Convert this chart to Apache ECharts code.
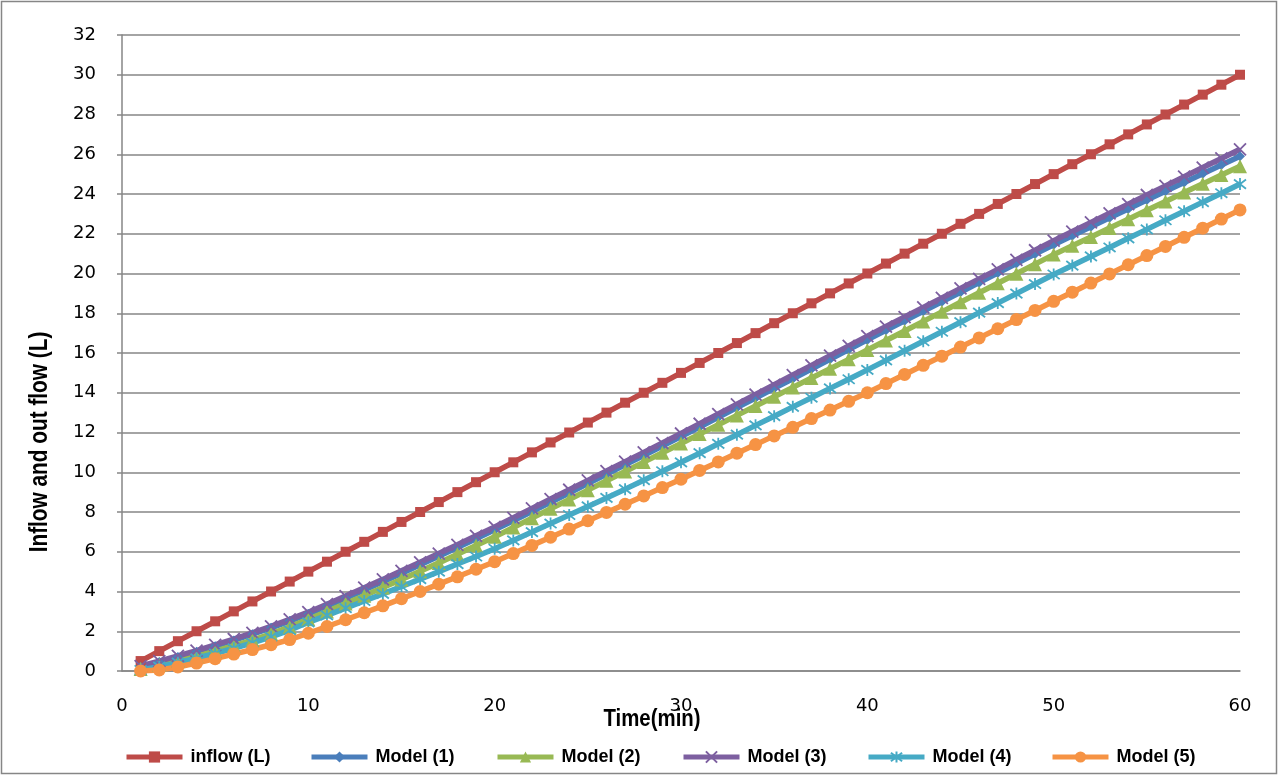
<!DOCTYPE html>
<html>
<head>
<meta charset="utf-8">
<script src="https://cdn.jsdelivr.net/npm/echarts@6/dist/echarts.min.js"></script>
<style>
  html, body { margin: 0; padding: 0; background: #ffffff; }
  #chart { width: 1279px; height: 776px; }
</style>
</head>
<body>
<div id="chart"></div>
<script>
// Time steps (minutes)
const times = [1,2,3,4,5,6,7,8,9,10,11,12,13,14,15,16,17,18,19,20,21,22,23,24,25,26,27,28,29,30,
  31,32,33,34,35,36,37,38,39,40,41,42,43,44,45,46,47,48,49,50,51,52,53,54,55,56,57,58,59,60];

// Cumulative inflow (L)
const inflow = [0.5,1.0,1.5,2.0,2.5,3.0,3.5,4.0,4.5,5.0,5.5,6.0,6.5,7.0,7.5,8.0,8.5,9.0,9.5,10.0,
  10.5,11.0,11.5,12.0,12.5,13.0,13.5,14.0,14.5,15.0,15.5,16.0,16.5,17.0,17.5,18.0,18.5,19.0,19.5,20.0,
  20.5,21.0,21.5,22.0,22.5,23.0,23.5,24.0,24.5,25.0,25.5,26.0,26.5,27.0,27.5,28.0,28.5,29.0,29.5,30.0];

// Cumulative outflow (L) from each model
const model1 = [0.20,0.45,0.71,0.97,1.25,1.54,1.85,2.17,2.51,2.87,3.26,3.66,4.07,4.49,4.91,5.34,5.77,6.21,6.65,7.10,
  7.56,8.02,8.49,8.96,9.43,9.90,10.37,10.84,11.32,11.80,12.28,12.76,13.25,13.73,14.22,14.70,15.19,15.68,16.17,16.66,
  17.14,17.62,18.10,18.58,19.06,19.54,20.02,20.50,20.98,21.45,21.90,22.35,22.80,23.25,23.70,24.14,24.58,25.02,25.46,25.90];

const model2 = [0.10,0.30,0.52,0.75,1.00,1.27,1.56,1.87,2.22,2.60,2.99,3.39,3.79,4.20,4.61,5.02,5.44,5.87,6.31,6.75,
  7.22,7.69,8.16,8.63,9.10,9.57,10.04,10.51,10.98,11.45,11.92,12.39,12.86,13.33,13.80,14.27,14.74,15.21,15.68,16.15,
  16.63,17.11,17.59,18.07,18.55,19.03,19.51,19.99,20.47,20.95,21.40,21.84,22.29,22.73,23.18,23.62,24.07,24.51,24.96,25.40];

const model3 = [0.25,0.50,0.76,1.03,1.31,1.61,1.92,2.25,2.60,2.96,3.36,3.77,4.19,4.61,5.04,5.47,5.91,6.35,6.80,7.25,
  7.71,8.18,8.65,9.12,9.59,10.06,10.53,11.00,11.47,11.95,12.44,12.93,13.42,13.91,14.40,14.89,15.38,15.87,16.36,16.85,
  17.33,17.81,18.29,18.77,19.25,19.73,20.21,20.69,21.17,21.65,22.11,22.57,23.03,23.49,23.95,24.41,24.87,25.33,25.79,26.25];

const model4 = [0.05,0.22,0.42,0.64,0.88,1.14,1.42,1.72,2.05,2.45,2.80,3.16,3.52,3.88,4.25,4.62,5.00,5.38,5.76,6.15,
  6.57,6.99,7.42,7.85,8.28,8.71,9.15,9.60,10.05,10.50,10.96,11.43,11.89,12.36,12.82,13.29,13.75,14.22,14.68,15.15,
  15.63,16.11,16.59,17.07,17.55,18.03,18.51,18.99,19.47,19.95,20.40,20.86,21.31,21.77,22.22,22.68,23.13,23.59,24.04,24.50];

const model5 = [0.00,0.05,0.20,0.40,0.62,0.85,1.08,1.32,1.58,1.90,2.24,2.58,2.93,3.28,3.64,4.00,4.37,4.74,5.12,5.50,
  5.91,6.32,6.73,7.14,7.56,7.98,8.39,8.81,9.23,9.65,10.09,10.52,10.96,11.39,11.83,12.26,12.70,13.13,13.57,14.00,
  14.46,14.92,15.38,15.84,16.30,16.76,17.22,17.68,18.14,18.60,19.06,19.52,19.98,20.44,20.90,21.36,21.82,22.28,22.74,23.20];

const seriesNames = ['inflow (L)', 'Model (1)', 'Model (2)', 'Model (3)', 'Model (4)', 'Model (5)'];
const yTicks = [0, 32, 2];
const xTicks = [0, 60, 10];
const xTitle = 'Time(min)';
const yTitle = 'Inflow and out flow (L)';

const colors = ['#BE4B48', '#4A7EBB', '#98B954', '#7D5FA0', '#46AAC5', '#F69344'];
const symbols = [
  'rect',
  'diamond',
  'triangle',
  'path://M0,0L10,10M10,0L0,10',
  'path://M0,0L10,10M10,0L0,10M5,-1.5L5,11.5',
  'circle'
];
const symbolSizes = [10, 10, 14, 12, 12, 13];
const strokeOnly = [false, false, false, true, true, false];
// left edge of each legend entry, evenly spread along the bottom
const legendLefts = [119, 304, 490, 676, 861, 1045];

const pairs = vals => times.map((t, i) => [t, vals[i]]);
const values = [inflow, model1, model2, model3, model4, model5];

const series = values.map((vals, i) => ({
  name: seriesNames[i],
  type: 'line',
  data: pairs(vals),
  symbol: symbols[i],
  symbolSize: symbolSizes[i],
  showAllSymbol: true,
  lineStyle: { color: colors[i], width: 5.5 },
  itemStyle: strokeOnly[i]
    ? { color: colors[i], borderColor: colors[i], borderWidth: 1.8 }
    : { color: colors[i], borderWidth: 0 },
  emphasis: { disabled: true },
  animation: false
}));

const boldFace = 'Liberation Sans, Arial, sans-serif';

const legends = seriesNames.map((name, i) => ({
  bottom: 5,
  left: legendLefts[i],
  itemWidth: 56,
  itemHeight: 14,
  data: [name],
  lineStyle: { width: 5 },
  textStyle: {
    fontFamily: boldFace,
    fontWeight: 'bold',
    fontSize: 18,
    color: '#000',
    padding: [0, 0, 0, 3]
  }
}));

const chart = echarts.init(document.getElementById('chart'), null, { renderer: 'canvas' });
chart.setOption({
  backgroundColor: '#ffffff',
  animation: false,
  color: colors,
  grid: { left: 122, right: 39, top: 35, bottom: 105, containLabel: false },
  graphic: [
    {
      type: 'rect',
      shape: { x: 1.5, y: 1.5, width: 1275, height: 772 },
      style: { fill: 'none', stroke: '#868686', lineWidth: 1.5 },
      silent: true
    },
    {
      // vertical axis title, condensed bold
      type: 'text',
      x: 40, y: 442,
      rotation: Math.PI / 2,
      scaleX: 0.8,
      style: {
        text: yTitle,
        font: 'bold 26px ' + boldFace,
        fill: '#000',
        align: 'center',
        verticalAlign: 'middle'
      },
      silent: true
    },
    {
      // horizontal axis title, condensed bold
      type: 'text',
      x: 652, y: 719,
      scaleX: 0.85,
      style: {
        text: xTitle,
        font: 'bold 24px ' + boldFace,
        fill: '#000',
        align: 'center',
        verticalAlign: 'middle'
      },
      silent: true
    }
  ],
  xAxis: {
    type: 'value',
    min: xTicks[0], max: xTicks[1], interval: xTicks[2],
    axisLine: { lineStyle: { color: '#868686', width: 1.5 } },
    axisTick: { show: false },
    axisLabel: { margin: 26, fontFamily: 'DejaVu Sans', fontSize: 18, color: '#000' },
    splitLine: { show: false }
  },
  yAxis: {
    type: 'value',
    min: yTicks[0], max: yTicks[1], interval: yTicks[2],
    axisLine: { show: true, lineStyle: { color: '#868686', width: 1.5 } },
    axisTick: { show: true, length: 5, lineStyle: { color: '#868686', width: 1.5 } },
    axisLabel: { margin: 26, fontFamily: 'DejaVu Sans', fontSize: 18, color: '#000' },
    splitLine: { lineStyle: { color: '#868686', width: 1.5 } }
  },
  legend: legends,
  series: series
});
</script>
</body>
</html>
